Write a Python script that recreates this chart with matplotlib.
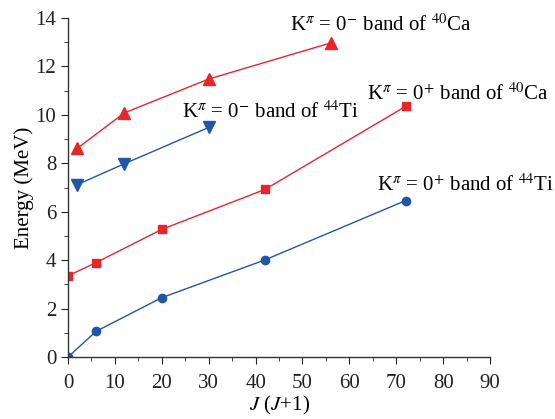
import matplotlib
matplotlib.use("Agg")
import matplotlib.pyplot as plt
from matplotlib.ticker import MultipleLocator

plt.rcParams["font.family"] = ["Liberation Serif", "DejaVu Serif"]
plt.rcParams["mathtext.fontset"] = "stix"

# J(J+1) values and band energies (MeV)
jj_odd = [2, 12, 30, 56]
ca40_neg = [8.62, 10.08, 11.48, 12.97]
jj_odd_ti = [2, 12, 30]
ti44_neg = [7.12, 7.98, 9.48]
jj_even = [0, 6, 20, 42, 72]
ca40_pos = [3.35, 3.90, 5.27, 6.92, 10.35]
ti44_pos = [0.0, 1.06, 2.45, 4.01, 6.46]

red = "#e8262a"
blue = "#1f56a8"

fig = plt.figure(figsize=(5.55, 4.19), dpi=100)
ax = fig.add_axes([0.1225, 0.148, 0.7605, 0.809])

ax.plot(jj_odd, ca40_neg, color=red, lw=1, marker="^", ms=8)
ax.plot(jj_odd_ti, ti44_neg, color=blue, lw=1, marker="v", ms=8)
ax.plot(jj_even, ca40_pos, color=red, lw=1, marker="s", ms=5.5)
ax.plot(jj_even, ti44_pos, color=blue, lw=1, marker="o", ms=6)

fs = 15
ax.text(47.3, 13.7, r"K$^{\pi}$ = 0$^{-}$ band of $^{40}$Ca", fontsize=fs, va="center")
ax.text(63.8, 10.85, r"K$^{\pi}$ = 0$^{+}$ band of $^{40}$Ca", fontsize=fs, va="center")
ax.text(24.3, 10.1, r"K$^{\pi}$ = 0$^{-}$ band of $^{44}$Ti", fontsize=fs, va="center")
ax.text(65.9, 7.1, r"K$^{\pi}$ = 0$^{+}$ band of $^{44}$Ti", fontsize=fs, va="center")

ax.set_xlim(0, 90)
ax.set_ylim(0, 14)
ax.xaxis.set_major_locator(MultipleLocator(10))
ax.xaxis.set_minor_locator(MultipleLocator(5))
ax.yaxis.set_major_locator(MultipleLocator(2))
ax.yaxis.set_minor_locator(MultipleLocator(1))
ax.spines["top"].set_visible(False)
ax.spines["right"].set_visible(False)
for s in ["left", "bottom"]:
    ax.spines[s].set_color("#333333")
    ax.spines[s].set_linewidth(1)
ax.tick_params(direction="out", which="major", length=5, labelsize=fs, colors="#222222")
ax.tick_params(axis="x", which="major", pad=7)
ax.tick_params(direction="out", which="minor", length=3, colors="#222222")
ax.set_xlabel(r"$J$ ($J$+1)", fontsize=fs, labelpad=1)
ax.set_ylabel("Energy (MeV)", fontsize=fs, labelpad=1)

fig.savefig("out.png", dpi=100)
